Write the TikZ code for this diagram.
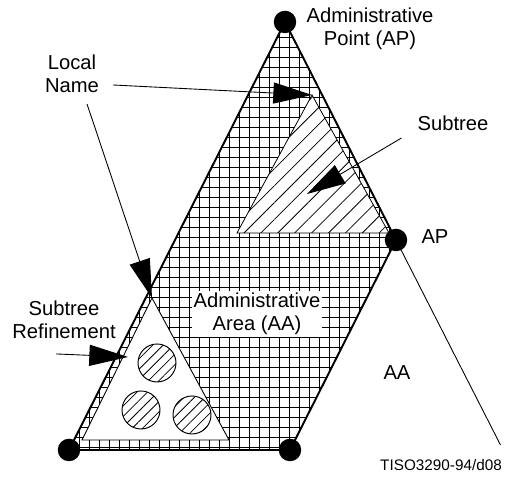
\documentclass[tikz,border=0pt]{standalone}
\usepackage{fontspec}
\setmainfont{Liberation Sans}
\usetikzlibrary{arrows.meta,patterns.meta}

\begin{document}
\begin{tikzpicture}[
  font=\fontsize{11.5}{13}\selectfont,
  lbl/.style={align=center,inner sep=1pt},
  ptr/.style={-{Triangle[length=22pt,width=12pt]},line width=0.5pt},
  apdot/.style={circle,fill=black,inner sep=0pt,minimum size=0.45cm},
  gridline/.style={line width=0.45pt},
  hatchfill/.style={preaction={fill=white},pattern={Lines[angle=45,distance=#1,line width=0.45pt]}}
]
  \useasboundingbox (0,0) rectangle (10.12,9.54);
  % corners
  \coordinate (top) at (5.70,9.10);
  \coordinate (mid) at (7.92,4.74);
  \coordinate (br) at (5.80,0.54);
  \coordinate (bl) at (1.38,0.54);
  \coordinate (far) at (10.01,0.64);
  \coordinate (sttip) at (6.14,5.66);
  \coordinate (rftip) at (2.56,2.40);
  % area, grid
  \begin{scope}
    \clip (top) -- (mid) -- (br) -- (bl) -- cycle;
    \foreach \i in {0,...,33}
      \draw[gridline] ({1.38+\i*0.2},0.4) -- ++(0,8.8);
    \foreach \i in {0,...,43}
      \draw[gridline] (1.3,{0.60+\i*0.2}) -- ++(6.8,0);
  \end{scope}
  \draw[line width=0.5pt] (mid) -- (far);
  % subtree
  \draw[hatchfill=6.8pt,line width=0.45pt] (6.24,7.64) coordinate (st) -- (7.78,4.88) -- (4.74,4.88) -- cycle;
  % refinement
  \draw[fill=white,line width=0.5pt] (3.04,3.58) coordinate (rf) -- (4.58,0.74) -- (1.64,0.74) -- cycle;
  \foreach \x/\y in {3.14/2.28,2.82/1.34,3.84/1.24}
    \draw[hatchfill=4.2pt,line width=0.55pt] (\x,\y) circle (0.38);
  \draw[line width=1.1pt] (top) -- (mid) -- (br) -- (bl) -- cycle;
  % dots
  \node[apdot] (dtop) at (top) {};
  \node[apdot] (dmid) at (mid) {};
  \node[apdot] (dbr) at (br) {};
  \node[apdot] (dbl) at (bl) {};
  % text
  \node[lbl] (adp) at (7.40,8.96) {Administrative\\Point (AP)};
  \node[lbl] (lname) at (1.44,8.06) {Local\\Name};
  \node[lbl] (sub) at (9.06,7.08) {Subtree};
  \node[lbl] (ap) at (8.70,4.80) {AP};
  \node[lbl] (aaout) at (7.94,2.08) {AA};
  \node[lbl] (sref) at (1.28,3.14) {Subtree\\Refinement};
  \node[lbl,fill=white] (aa) at (5.14,3.26) {Administrative\\Area (AA)};
  \node[lbl,font=\fontsize{8.7}{10}\selectfont] (fig) at (8.82,0.24) {TISO3290-94/d08};
  % arrows
  \draw[ptr] ([xshift=0.24cm,yshift=-0.22cm]lname.east) -- (st);
  \draw[ptr] ([xshift=0.3cm,yshift=-0.18cm]lname.south) -- (rf);
  \draw[ptr] ([xshift=-0.28cm,yshift=-0.3cm]sub.west) -- (sttip);
  \draw[ptr] ([xshift=-0.16cm,yshift=-0.26cm]sref.south) -- (rftip);
\end{tikzpicture}
\end{document}
